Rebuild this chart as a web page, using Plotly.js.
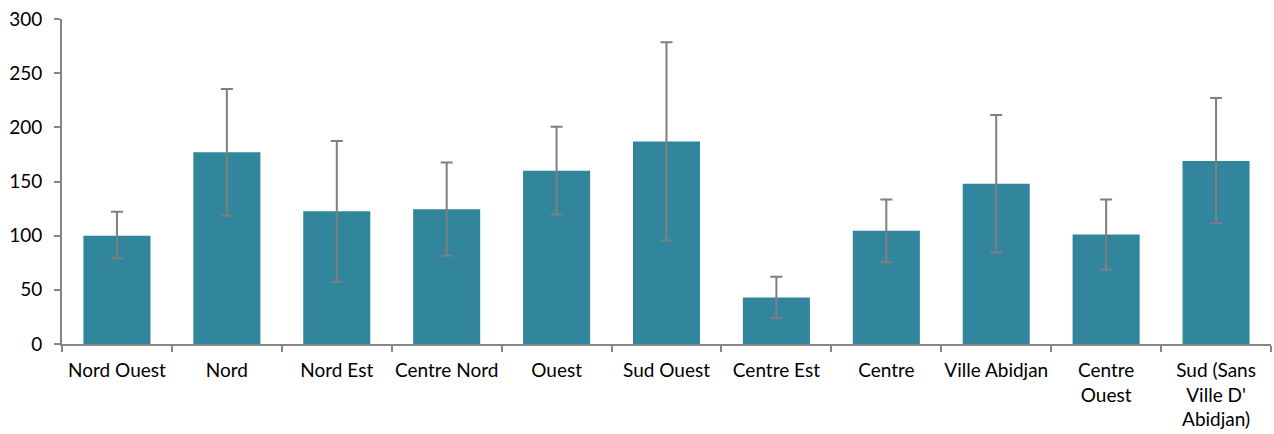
<!DOCTYPE html>
<html>
<head>
<meta charset="utf-8">
<script src="https://cdn.plot.ly/plotly-3.0.1.min.js"></script>
<style>html,body{margin:0;padding:0;background:#fff;}#chart{width:1274px;height:434px;}</style>
</head>
<body>
<div id="chart"></div>
<script>
const categories = ["Nord Ouest", "Nord", "Nord Est", "Centre Nord", "Ouest", "Sud Ouest", "Centre Est", "Centre", "Ville Abidjan", "Centre<br>Ouest", "Sud (Sans<br>Ville D'<br>Abidjan)"];
const values = [100, 177, 122.5, 124.5, 160, 187, 43, 104.5, 148, 101, 169];
const errPlus = [22, 58.5, 65, 43, 40.5, 91.5, 19, 29, 63.5, 32.5, 58];
const errMinus = [21, 58.5, 65, 43, 40.5, 91.5, 19, 29, 63.5, 32.5, 57.5];

const trace = {
  type: 'bar',
  x: categories,
  y: values,
  marker: {color: '#31859c'},
  error_y: {
    type: 'data', symmetric: false,
    array: errPlus, arrayminus: errMinus,
    color: '#7f7f7f', thickness: 2, width: 6
  },
  hoverinfo: 'none'
};

const layout = {
  width: 1274, height: 434,
  margin: {l: 62, r: 3, t: 19, b: 90},
  paper_bgcolor: '#fff', plot_bgcolor: '#fff',
  bargap: 0.39,
  showlegend: false,
  font: {family: 'Lato, sans-serif', size: 19, color: '#000'},
  xaxis: {
    type: 'category',
    showline: true, linecolor: '#868686', linewidth: 2,
    ticks: 'outside', tickson: 'boundaries', ticklen: 6, tickcolor: '#868686', tickwidth: 2,
    showgrid: false, zeroline: false,
    tickfont: {size: 19, color: '#000'},
    ticklabelstandoff: 8,
    tickangle: 0
  },
  yaxis: {
    range: [0, 300], dtick: 50,
    showline: true, linecolor: '#868686', linewidth: 2,
    ticks: 'outside', ticklen: 6, tickcolor: '#868686', tickwidth: 2,
    showgrid: false, zeroline: false,
    ticklabelstandoff: 8,
    tickfont: {size: 19, color: '#000'}
  }
};

Plotly.newPlot('chart', [trace], layout, {staticPlot: true, displayModeBar: false});
</script>
</body>
</html>
